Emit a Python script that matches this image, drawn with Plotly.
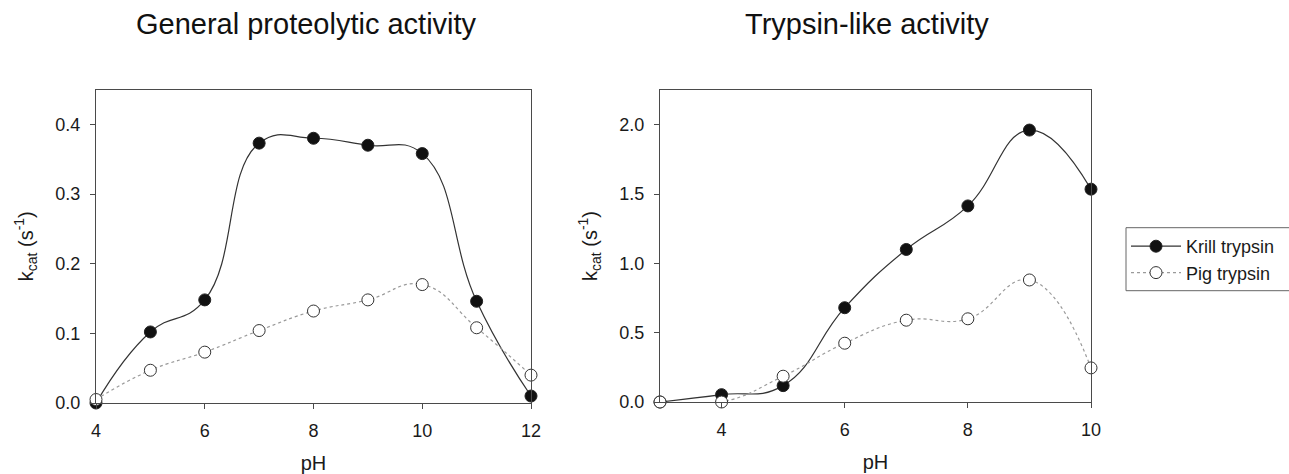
import plotly.graph_objects as go

# ---- data ----
ph_general = [4, 5, 6, 7, 8, 9, 10, 11, 12]
krill_general = [0.0, 0.102, 0.148, 0.373, 0.380, 0.370, 0.358, 0.146, 0.010]
pig_general = [0.005, 0.047, 0.073, 0.104, 0.132, 0.148, 0.170, 0.108, 0.040]

ph_trypsin = [3, 4, 5, 6, 7, 8, 9, 10]
krill_trypsin = [0.0, 0.053, 0.118, 0.68, 1.10, 1.414, 1.961, 1.535]
pig_trypsin = [0.0, 0.0, 0.186, 0.424, 0.59, 0.60, 0.88, 0.246]

panel_titles = ["General proteolytic activity", "Trypsin-like activity"]
series_names = ["Krill trypsin", "Pig trypsin"]
x_label = "pH"
y_label = "k<sub>cat</sub> (s<sup>-1</sup>)"

W, H = 1289, 474
FONT = "Arial, 'Liberation Sans', Helvetica, sans-serif"
AX_COL = "#4a4a4a"
TXT = "#1a1a1a"

fig = go.Figure()

def add_pair(xs, k, p, xa, ya, show):
    fig.add_trace(go.Scatter(
        x=xs, y=k, name=series_names[0], xaxis=xa, yaxis=ya,
        mode="lines+markers", line=dict(color="#333333", width=1.2, shape="spline", smoothing=1.3),
        marker=dict(symbol="circle", size=12, color="#111111", line=dict(color="#222222", width=1)),
        cliponaxis=False, showlegend=show))
    fig.add_trace(go.Scatter(
        x=xs, y=p, name=series_names[1], xaxis=xa, yaxis=ya,
        mode="lines+markers", line=dict(color="#9a9a9a", width=1.2, dash="dot", shape="spline", smoothing=1.3),
        marker=dict(symbol="circle", size=12, color="white", line=dict(color="#333333", width=1)),
        cliponaxis=False, showlegend=show))

add_pair(ph_general, krill_general, pig_general, "x", "y", True)
add_pair(ph_trypsin, krill_trypsin, pig_trypsin, "x2", "y2", False)

def xax(dom, rng, anchor):
    return dict(domain=dom, range=rng, anchor=anchor, dtick=2, tick0=0,
                showline=True, linecolor=AX_COL, linewidth=1, mirror=True,
                ticks="outside", ticklen=5, tickcolor=AX_COL, showgrid=False, zeroline=False,
                tickfont=dict(size=18, color=TXT, family=FONT), ticklabelstandoff=6,
                title=dict(text=x_label, font=dict(size=20, color=TXT, family=FONT), standoff=16),
                automargin=False)

def yax(dom, rng, dt, anchor):
    return dict(domain=dom, range=rng, anchor=anchor, dtick=dt, tick0=0, tickformat=".1f",
                showline=True, linecolor=AX_COL, linewidth=1, mirror=True,
                ticks="outside", ticklen=5, tickcolor=AX_COL, showgrid=False, zeroline=False,
                tickfont=dict(size=18, color=TXT, family=FONT), ticklabelstandoff=6,
                title=dict(text=y_label, font=dict(size=20, color=TXT, family=FONT), standoff=16),
                automargin=False)

fig.update_layout(
    width=W, height=H,
    margin=dict(l=0, r=0, t=0, b=0),
    paper_bgcolor="white", plot_bgcolor="white",
    font=dict(family=FONT, color=TXT),
    xaxis=xax([96 / W, 531 / W], [4, 12], "y"),
    yaxis=yax([1 - 403 / H, 1 - 89.5 / H], [0, 0.45], 0.1, "x"),
    xaxis2=xax([660 / W, 1091 / W], [3, 10], "y2"),
    yaxis2=yax([1 - 402 / H, 1 - 90 / H], [0, 2.25], 0.5, "x2"),
    legend=dict(x=1126 / W, y=1 - 228 / H, xanchor="left", yanchor="top",
                borderwidth=0, bgcolor="rgba(0,0,0,0)",
                font=dict(size=18, color=TXT, family=FONT), tracegroupgap=0,
                itemwidth=50),
    showlegend=True,
)

# legend frame that runs off the right edge, as in the reference
fig.add_shape(type="rect", xref="paper", yref="paper",
              x0=1126 / W, x1=1.05, y0=1 - 290.7 / H, y1=1 - 227.7 / H,
              line=dict(color="#666666", width=1), fillcolor="rgba(0,0,0,0)", layer="below")

for txt, cx in zip(panel_titles, [306, 867]):
    fig.add_annotation(text=txt, x=cx / W, y=1 - 24 / H, xref="paper", yref="paper",
                       xanchor="center", yanchor="middle", showarrow=False,
                       font=dict(size=29, color="#111111", family=FONT))

fig.write_html("out.html")
